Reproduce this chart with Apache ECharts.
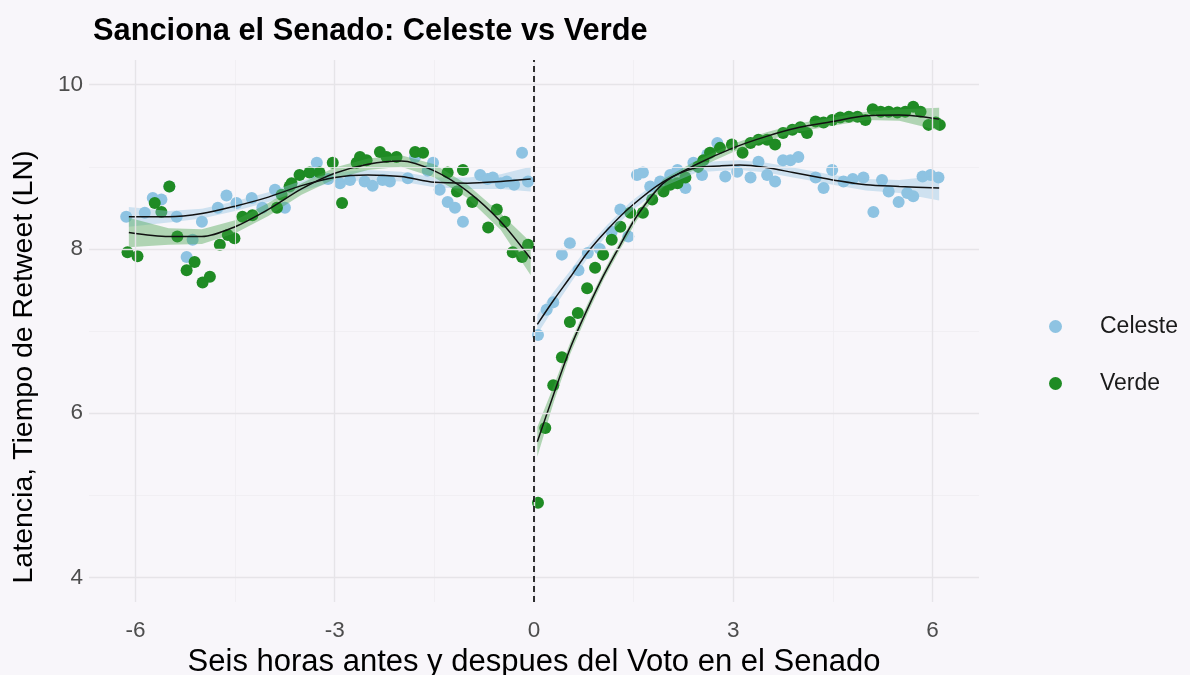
<!DOCTYPE html>
<html>
<head>
<meta charset="utf-8">
<script src="https://cdn.jsdelivr.net/npm/echarts@6/dist/echarts.min.js"></script>
<style>
  html, body { margin: 0; padding: 0; background: #f8f6fa; }
  #chart { width: 1190px; height: 675px; }
</style>
</head>
<body>
<div id="chart"></div>
<script>
// Hours relative to the Senate vote and log retweet latency, per group
const celesteHora = [
  -6.14, -5.86, -5.74, -5.61, -5.49, -5.38, -5.23, -5.14, -5.00, -4.76, -4.63, -4.48,
  -4.25, -4.09, -3.90, -3.75, -3.35, -3.27, -3.10, -2.92, -2.77, -2.55, -2.43, -2.28,
  -2.17, -1.90, -1.79, -1.60, -1.52, -1.42, -1.30, -1.19, -1.07, -0.81, -0.70, -0.62,
  -0.50, -0.41, -0.30, -0.18, -0.09,
  0.06, 0.19, 0.29, 0.42, 0.54, 0.67, 0.81, 0.99, 1.17, 1.30, 1.42, 1.55, 1.64, 1.75,
  1.90, 2.05, 2.16, 2.28, 2.40, 2.53, 2.61, 2.76, 2.88, 3.06, 3.26, 3.38, 3.51, 3.63,
  3.75, 3.86, 3.98, 4.24, 4.36, 4.49, 4.66, 4.80, 4.96, 5.11, 5.24, 5.34, 5.49, 5.62,
  5.71, 5.85, 5.97, 6.09
];
const celesteLatencia = [
  8.39, 8.44, 8.62, 8.60, 8.76, 8.39, 7.90, 8.11, 8.33, 8.50, 8.65, 8.56,
  8.62, 8.50, 8.72, 8.50, 8.93, 9.05, 8.85, 8.80, 8.84, 8.82, 8.77, 8.84,
  8.82, 8.86, 9.12, 8.95, 9.05, 8.72, 8.57, 8.50, 8.33, 8.90, 8.85, 8.87,
  8.80, 8.82, 8.78, 9.17, 8.82,
  6.95, 7.26, 7.35, 7.93, 8.07, 7.74, 7.95, 8.00, 8.21, 8.48, 8.15, 8.90, 8.93, 8.76,
  8.82, 8.90, 8.96, 8.74, 9.05, 8.90, 9.15, 9.29, 8.88, 8.94, 8.87, 9.06, 8.90, 8.82,
  9.08, 9.08, 9.12, 8.87, 8.74, 8.96, 8.82, 8.85, 8.87, 8.45, 8.84, 8.70, 8.57, 8.68,
  8.64, 8.88, 8.90, 8.87
];
const verdeHora = [
  -6.12, -5.97, -5.71, -5.61, -5.49, -5.37, -5.23, -5.11, -4.99, -4.88, -4.73, -4.61,
  -4.51, -4.39, -4.24, -3.87, -3.80, -3.68, -3.65, -3.53, -3.38, -3.23, -3.03, -2.89,
  -2.67, -2.62, -2.52, -2.32, -2.22, -2.07, -1.79, -1.67, -1.30, -1.16, -1.07, -0.93,
  -0.69, -0.56, -0.44, -0.32, -0.18, -0.09,
  0.06, 0.17, 0.29, 0.42, 0.54, 0.66, 0.80, 0.92, 1.04, 1.17, 1.30, 1.45, 1.64, 1.78,
  1.95, 2.05, 2.16, 2.28, 2.47, 2.55, 2.65, 2.80, 2.98, 3.14, 3.26, 3.38, 3.51, 3.63,
  3.75, 3.89, 4.01, 4.11, 4.24, 4.36, 4.49, 4.61, 4.74, 4.87, 4.99, 5.10, 5.22, 5.34,
  5.47, 5.59, 5.71, 5.82, 5.94, 6.05, 6.11
];
const verdeLatencia = [
  7.96, 7.91, 8.56, 8.45, 8.76, 8.15, 7.74, 7.84, 7.59, 7.66, 8.05, 8.17,
  8.13, 8.39, 8.41, 8.50, 8.66, 8.76, 8.80, 8.90, 8.93, 8.93, 9.05, 8.56,
  9.05, 9.12, 9.08, 9.18, 9.12, 9.12, 9.18, 9.17, 8.93, 8.70, 8.96, 8.57,
  8.26, 8.48, 8.33, 7.96, 7.90, 8.05,
  4.91, 5.82, 6.34, 6.68, 7.11, 7.22, 7.52, 7.77, 7.93, 8.11, 8.27, 8.44, 8.44, 8.60,
  8.70, 8.78, 8.80, 8.87, 9.00, 9.08, 9.17, 9.23, 9.27, 9.17, 9.29, 9.33, 9.33, 9.27,
  9.41, 9.45, 9.48, 9.41, 9.55, 9.54, 9.57, 9.60, 9.61, 9.61, 9.57, 9.70, 9.67, 9.67,
  9.66, 9.67, 9.73, 9.67, 9.51, 9.54, 9.51
];

// Local smoothing fits with confidence limits, before and after the vote
const celesteAntesHora = [-6.1, -5.5, -5.0, -4.5, -4.0, -3.5, -3.0, -2.5, -2.0, -1.5, -1.0, -0.5, -0.05];
const celesteAntesAjuste = [8.39, 8.39, 8.43, 8.52, 8.63, 8.77, 8.87, 8.90, 8.88, 8.81, 8.80, 8.82, 8.85];
const celesteAntesInf = [8.27, 8.32, 8.37, 8.46, 8.57, 8.71, 8.81, 8.84, 8.82, 8.75, 8.73, 8.73, 8.70];
const celesteAntesSup = [8.51, 8.46, 8.49, 8.58, 8.69, 8.83, 8.93, 8.96, 8.94, 8.87, 8.87, 8.91, 9.00];

const verdeAntesHora = [-6.1, -5.5, -5.0, -4.5, -4.0, -3.5, -3.0, -2.5, -2.0, -1.5, -1.0, -0.5, -0.05];
const verdeAntesAjuste = [8.20, 8.15, 8.15, 8.27, 8.48, 8.73, 8.92, 9.03, 9.07, 8.95, 8.70, 8.33, 7.88];
const verdeAntesInf = [8.02, 8.05, 8.06, 8.19, 8.40, 8.66, 8.85, 8.96, 9.00, 8.87, 8.62, 8.23, 7.68];
const verdeAntesSup = [8.38, 8.25, 8.24, 8.35, 8.56, 8.80, 8.99, 9.10, 9.14, 9.03, 8.78, 8.43, 8.08];

const celesteDespuesHora = [0.05, 0.3, 0.55, 0.8, 1.1, 1.45, 1.95, 2.45, 2.8, 3.1, 3.5, 3.9, 4.3, 4.5, 5.0, 5.5, 6.1];
const celesteDespuesAjuste = [7.08, 7.38, 7.66, 7.95, 8.23, 8.51, 8.82, 8.99, 9.01, 9.02, 8.99, 8.93, 8.87, 8.84, 8.78, 8.76, 8.74];
const celesteDespuesInf = [6.96, 7.28, 7.58, 7.88, 8.17, 8.45, 8.76, 8.93, 8.95, 8.96, 8.93, 8.87, 8.81, 8.78, 8.71, 8.68, 8.59];
const celesteDespuesSup = [7.20, 7.48, 7.74, 8.02, 8.29, 8.57, 8.88, 9.05, 9.07, 9.08, 9.05, 8.99, 8.93, 8.90, 8.85, 8.84, 8.89];

const verdeDespuesHora = [0.05, 0.3, 0.55, 0.8, 1.05, 1.3, 1.55, 1.95, 2.45, 3.0, 3.5, 4.0, 4.5, 5.0, 5.5, 6.1];
const verdeDespuesAjuste = [5.65, 6.24, 6.80, 7.26, 7.68, 8.05, 8.40, 8.80, 9.03, 9.23, 9.37, 9.48, 9.55, 9.62, 9.63, 9.58];
const verdeDespuesInf = [5.47, 6.14, 6.73, 7.20, 7.63, 8.00, 8.35, 8.75, 8.98, 9.18, 9.32, 9.43, 9.50, 9.57, 9.56, 9.44];
const verdeDespuesSup = [5.83, 6.34, 6.87, 7.32, 7.73, 8.10, 8.45, 8.85, 9.08, 9.28, 9.42, 9.53, 9.60, 9.67, 9.70, 9.72];

// Axis ticks and reference grid
const xTicks = [-6, -3, 0, 3, 6];
const yTicks = [4, 6, 8, 10];
const xMinor = [-4.5, -1.5, 1.5, 4.5];
const yMinor = [5, 7, 9];

const COL_CELESTE = '#8ec3e2';
const COL_VERDE = '#1f8b24';
const BAND_CELESTE = '#8ec3e2';
const BAND_VERDE = '#44a248';
const FONT = 'Liberation Sans, Arial, sans-serif';

const zip = (xs, ys) => xs.map((x, i) => [x, ys[i]]);

// Confidence ribbon: one filled polygon through the upper limits and back along the lower ones
function bandSeries(xs, lo, hi, color) {
  return {
    type: 'custom', silent: true, z: 3,
    data: xs.map((x, i) => [x, lo[i], hi[i]]),
    encode: { x: 0, y: [1, 2] },
    renderItem: (params, api) => {
      if (params.dataIndex !== 0) return null;
      const upper = xs.map((x, i) => api.coord([x, hi[i]]));
      const lower = xs.map((x, i) => api.coord([x, lo[i]])).reverse();
      return {
        type: 'polygon',
        shape: { points: upper.concat(lower) },
        style: { fill: color, opacity: 0.4 }
      };
    }
  };
}

function fitSeries(xs, ys) {
  return {
    type: 'line', data: zip(xs, ys), showSymbol: false, symbol: 'none',
    smooth: 0.3, silent: true, lineStyle: { color: '#111', width: 1.5 }, z: 4
  };
}

const gridLine = (key, v, major) => ({
  [key]: v,
  lineStyle: { color: major ? '#e6e4e8' : '#efedf1', width: major ? 1.4 : 0.8, type: 'solid' }
});

const chart = echarts.init(document.getElementById('chart'), null, { renderer: 'canvas' });

chart.setOption({
  backgroundColor: '#f8f6fa',
  animation: false,
  title: {
    text: 'Sanciona el Senado: Celeste vs Verde',
    left: 88, top: 11,
    textStyle: { fontFamily: FONT, fontSize: 30.8, fontWeight: 'bold', color: '#000' }
  },
  legend: {
    orient: 'vertical', left: 1044, top: 310, itemGap: 34,
    itemWidth: 13, itemHeight: 13, icon: 'circle',
    data: ['Celeste', 'Verde'],
    textStyle: { fontFamily: FONT, fontSize: 23, color: '#1a1a1a', padding: [0, 0, 0, 33] }
  },
  grid: { left: 89, right: 211, top: 60, bottom: 73, containLabel: false, outerBoundsMode: 'none' },
  xAxis: {
    type: 'value', min: -6.7, max: 6.7,
    name: 'Seis horas antes y despues del Voto en el Senado',
    nameLocation: 'middle', nameGap: 41,
    nameTextStyle: { fontFamily: FONT, fontSize: 31, color: '#000' },
    axisLine: { show: false }, axisTick: { show: false }, splitLine: { show: false },
    axisLabel: { customValues: xTicks, fontFamily: FONT, fontSize: 22.5, color: '#4d4d4d', margin: 17 }
  },
  yAxis: {
    type: 'value', min: 3.7, max: 10.3,
    name: 'Latencia, Tiempo de Retweet (LN)',
    nameLocation: 'middle', nameGap: 50,
    nameTextStyle: { fontFamily: FONT, fontSize: 28.5, color: '#000', padding: [0, 72, 0, 0] },
    axisLine: { show: false }, axisTick: { show: false }, splitLine: { show: false },
    axisLabel: { customValues: yTicks, fontFamily: FONT, fontSize: 22.5, color: '#4d4d4d', margin: 6 }
  },
  series: [
    {
      type: 'line', data: [], silent: true, z: 0,
      markLine: {
        silent: true, symbol: 'none', label: { show: false }, animation: false,
        data: [
          ...xMinor.map(v => gridLine('xAxis', v, false)),
          ...yMinor.map(v => gridLine('yAxis', v, false)),
          ...xTicks.map(v => gridLine('xAxis', v, true)),
          ...yTicks.map(v => gridLine('yAxis', v, true))
        ]
      }
    },
    {
      type: 'scatter', name: 'Celeste', data: zip(celesteHora, celesteLatencia),
      symbolSize: 12, itemStyle: { color: COL_CELESTE, opacity: 1 }, z: 2
    },
    {
      type: 'scatter', name: 'Verde', data: zip(verdeHora, verdeLatencia),
      symbolSize: 12, itemStyle: { color: COL_VERDE, opacity: 1 }, z: 2
    },
    bandSeries(celesteAntesHora, celesteAntesInf, celesteAntesSup, BAND_CELESTE),
    bandSeries(verdeAntesHora, verdeAntesInf, verdeAntesSup, BAND_VERDE),
    bandSeries(celesteDespuesHora, celesteDespuesInf, celesteDespuesSup, BAND_CELESTE),
    bandSeries(verdeDespuesHora, verdeDespuesInf, verdeDespuesSup, BAND_VERDE),
    fitSeries(celesteAntesHora, celesteAntesAjuste),
    fitSeries(verdeAntesHora, verdeAntesAjuste),
    fitSeries(celesteDespuesHora, celesteDespuesAjuste),
    fitSeries(verdeDespuesHora, verdeDespuesAjuste),
    {
      type: 'line', data: [], silent: true, z: 6,
      markLine: {
        silent: true, symbol: 'none', label: { show: false }, animation: false,
        data: [{ xAxis: 0, lineStyle: { color: '#000', width: 1.6, type: [6, 4] } }]
      }
    }
  ]
});
</script>
</body>
</html>
